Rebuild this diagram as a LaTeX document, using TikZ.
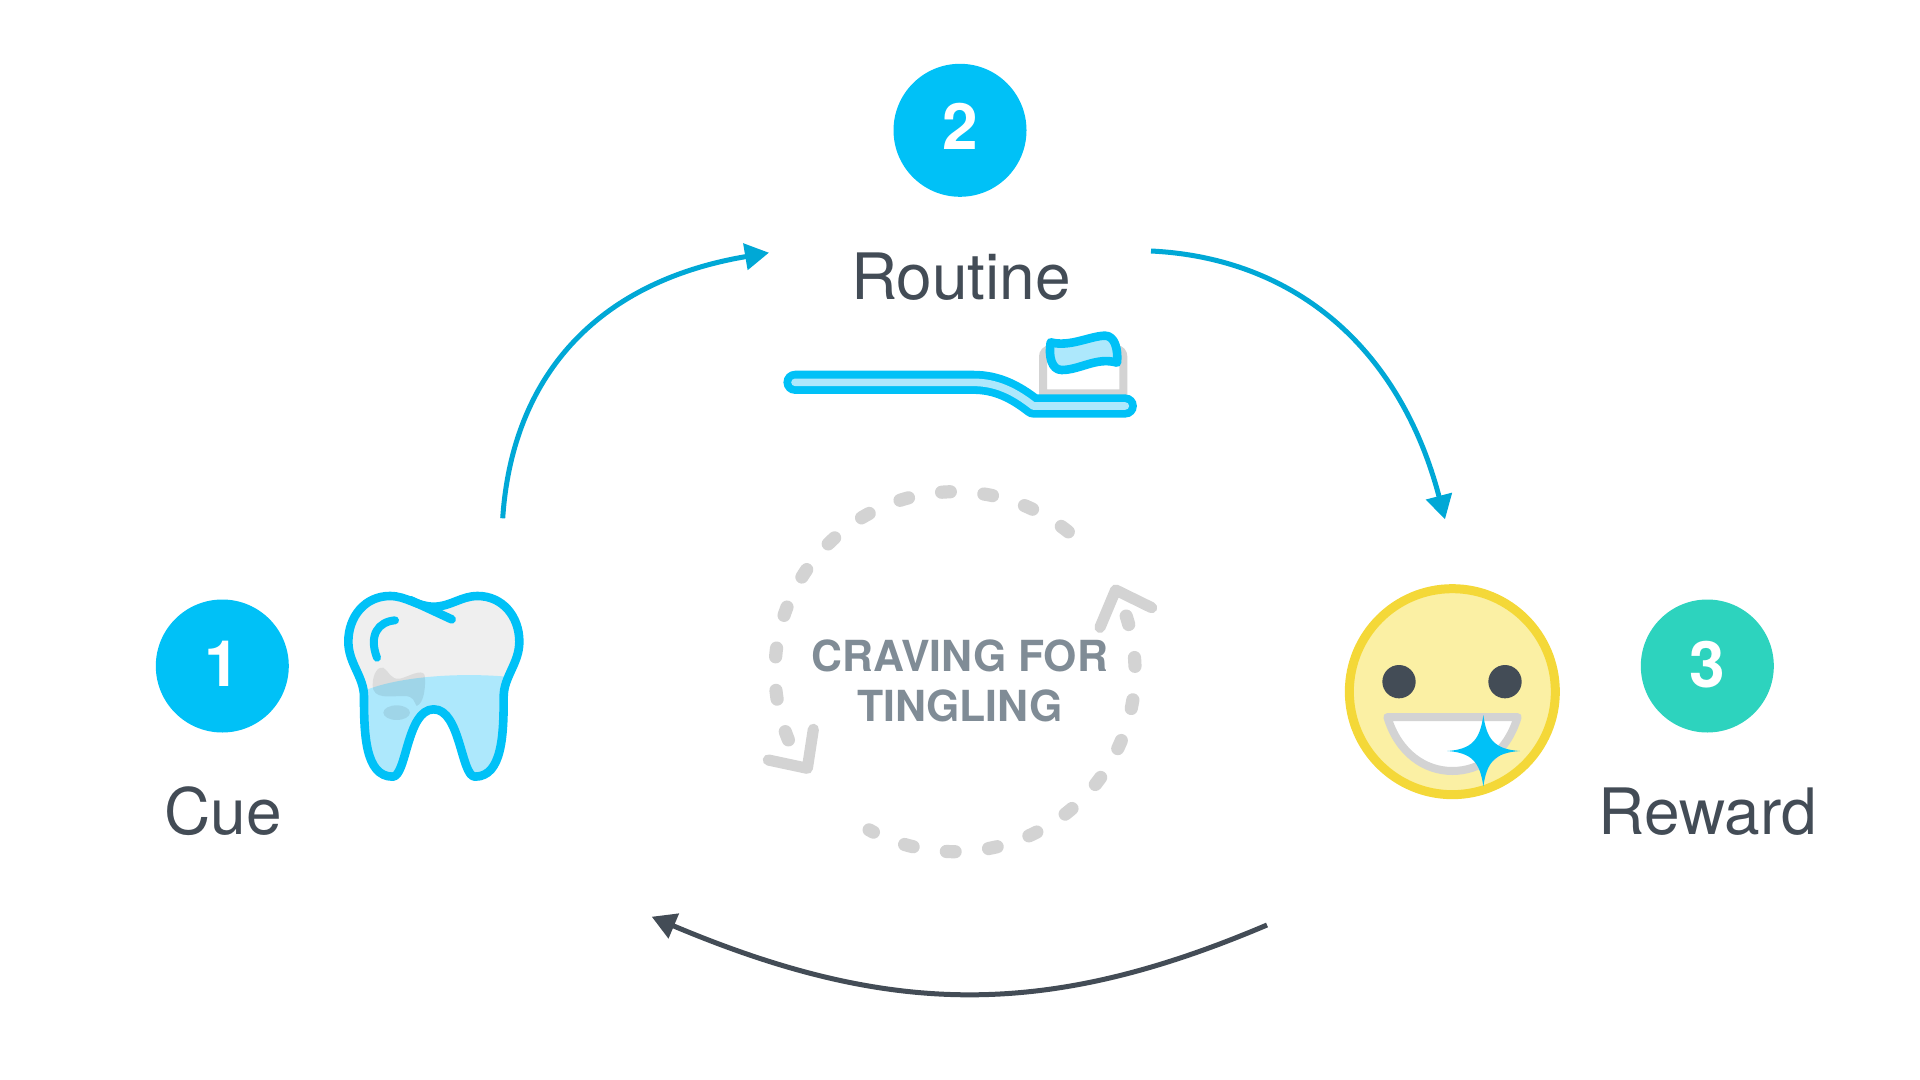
\documentclass[tikz,border=0pt]{standalone}
\usepackage{fontspec}
\setmainfont{TeX Gyre Heros}
\usetikzlibrary{arrows.meta}

\definecolor{cyanmain}{HTML}{00C1F7}
\definecolor{cyanlight}{HTML}{ADE8FC}
\definecolor{tealmain}{HTML}{2DD3BE}
\definecolor{arrowblue}{HTML}{00A8D6}
\definecolor{slatedark}{HTML}{434C56}
\definecolor{slatetext}{HTML}{808C96}
\definecolor{lightgray}{HTML}{D3D3D3}
\definecolor{toothgray}{HTML}{EFEFEF}
\definecolor{faceyellow}{HTML}{FBF0A4}
\definecolor{rimyellow}{HTML}{F4D838}

\tikzset{
    badge/.style={circle, minimum size=66.5pt, inner sep=0pt},
    badgenum/.style={anchor=base, text=white, font=\fontsize{32}{38}\selectfont\bfseries},
    caption/.style={anchor=base, text=slatedark, font=\fontsize{32}{38}\selectfont},
    flowarrow/.style={line width=2.5pt, -{Triangle[length=12pt,width=13pt]}},
    icon/.style={line width=4.3pt, line cap=round, line join=round},
    ringtext/.style={anchor=base, text=slatetext, font=\fontsize{21.4}{25}\selectfont\bfseries},
    ringdash/.style={lightgray, line width=6.6pt, line cap=round, dash pattern=on 4.4pt off 16.8pt},
    ringtip/.style={lightgray, line width=5.6pt, line cap=round, line join=round}
}

\newcommand{\toothoutline}{(401,140) .. controls (350,140) and (320,108) .. (270,108)
    .. controls (195,108) and (145,170) .. (145,245)
    .. controls (145,310) and (192,350) .. (192,410)
    .. controls (192,520) and (195,650) .. (278,650)
    .. controls (320,650) and (320,448) .. (401,448)
    .. controls (482,448) and (483,650) .. (525,650)
    .. controls (608,650) and (611,520) .. (611,410)
    .. controls (611,350) and (658,310) .. (658,245)
    .. controls (658,170) and (608,108) .. (533,108)
    .. controls (483,108) and (452,140) .. (401,140) -- cycle}

\begin{document}
\begin{tikzpicture}[x=0.5pt, y=-0.5pt]
    \useasboundingbox (0,0) rectangle (1920,1080);

    % badges and labels
    \node[badge, fill=cyanmain] (cuebadge) at (222.3,666) {};
    \node[badge, fill=cyanmain] (routinebadge) at (960,130.3) {};
    \node[badge, fill=tealmain] (rewardbadge) at (1707.3,666) {};
    \node[badgenum] (cuenum) at (222.3,686) {1};
    \node[badgenum] (routinenum) at (960,150) {2};
    \node[badgenum] (rewardnum) at (1707.3,687) {3};
    \node[caption] (cuelabel) at (223,834) {Cue};
    \node[caption] (routinelabel) at (961,299.5) {Routine};
    \node[caption] (rewardlabel) at (1708,834) {Reward};

    % connectors
    \coordinate (toothout) at (502.7,518.3);
    \coordinate (routinein) at (769,252.7);
    \coordinate (routineout) at (1151,251);
    \coordinate (rewardin) at (1445,519.3);
    \coordinate (rewardout) at (1267,925);
    \coordinate (cuein) at (651.7,916.7);
    \draw[flowarrow, arrowblue] (toothout) .. controls (512,378) and (595,282) .. (routinein);
    \draw[flowarrow, arrowblue] (routineout) .. controls (1295,258) and (1400,348) .. (rewardin);
    \draw[flowarrow, slatedark] (rewardout) .. controls (1048,1018) and (892,1018) .. (cuein);

    % tooth
    \begin{scope}[shift={(300,560)}, scale=1/3]
        \begin{scope}
            \clip \toothoutline;
            \fill[toothgray] (100,80) rectangle (700,680);
            \fill[cyanlight] (180,398) .. controls (280,350) and (480,335) .. (640,352) -- (640,680) -- (180,680) -- cycle;
        \end{scope}
        \fill[black, opacity=0.08] (218,375) .. controls (218,340) and (235,318) .. (250,323)
            .. controls (268,335) and (272,360) .. (300,356)
            .. controls (325,350) and (365,325) .. (374,345)
            .. controls (378,380) and (372,430) .. (350,438)
            .. controls (340,425) and (345,408) .. (310,408)
            .. controls (270,408) and (218,420) .. (218,375) -- cycle;
        \fill[black, opacity=0.08] (290,458) ellipse (40 and 22);
        \draw[icon, cyanmain] \toothoutline;
        \draw[icon, cyanmain] (330,120) -- (455,178);
        \draw[icon, cyanmain, line width=4pt] (285,181) .. controls (235,185) and (205,225) .. (231,293);
    \end{scope}

    % toothbrush
    \begin{scope}[shift={(770,310)}, scale=1/3]
        \draw[lightgray, fill=white, line width=4pt] (819,250) -- (819,140)
            .. controls (819,128) and (828,118) .. (840,118) -- (1040,118)
            .. controls (1052,118) and (1060,128) .. (1060,140) -- (1060,250) -- cycle;
        \draw[cyanmain, double=cyanlight, double distance=3.8pt, line width=3.9pt, line cap=round, line join=round]
            (75,217) -- (610,217) .. controls (680,217) and (735,245) .. (790,288) -- (1066,288);
        \draw[icon, cyanmain, fill=cyanlight] (842,97) .. controls (900,112) and (960,78) .. (1005,77)
            .. controls (1035,77) and (1045,120) .. (1041,158)
            .. controls (980,140) and (930,180) .. (875,180)
            .. controls (845,180) and (835,140) .. (842,97) -- cycle;
    \end{scope}

    % face
    \begin{scope}[shift={(1330,570)}, scale=1/3]
        \draw[rimyellow, fill=faceyellow, line width=4.5pt] (367,365) circle (309);
        \fill[slatedark] (207,335) circle (50);
        \fill[slatedark] (525,335) circle (50);
        \draw[lightgray, fill=white, line width=4pt, line join=round] (172,441) -- (563,441)
            .. controls (530,550) and (450,603) .. (367,603)
            .. controls (285,603) and (205,550) .. (172,441) -- cycle;
        \fill[cyanmain] (460,435) .. controls (470,510) and (495,538) .. (570,543)
            .. controls (495,548) and (470,576) .. (460,650)
            .. controls (450,576) and (425,548) .. (352,543)
            .. controls (425,538) and (450,510) .. (460,435) -- cycle;
    \end{scope}

    % craving ring
    \node[ringtext] (craving) at (959.7,671) {CRAVING FOR};
    \node[ringtext] (tingling) at (959.7,721) {TINGLING};
    \coordinate (ring) at (955,671.7);
    \draw[ringdash] (ring) ++(-51:180) arc[start angle=-51, end angle=-203, radius=180];
    \draw[ringdash] (ring) ++(-18:180) arc[start angle=-18, end angle=118.5, radius=180];
    \begin{scope}[shift={(750,470)}, scale=1/3]
        \draw[ringtip] (190,778) -- (172,895) -- (55,870);
        \draw[ringtip] (1050,472) -- (1097,360) -- (1205,413);
    \end{scope}
\end{tikzpicture}
\end{document}
